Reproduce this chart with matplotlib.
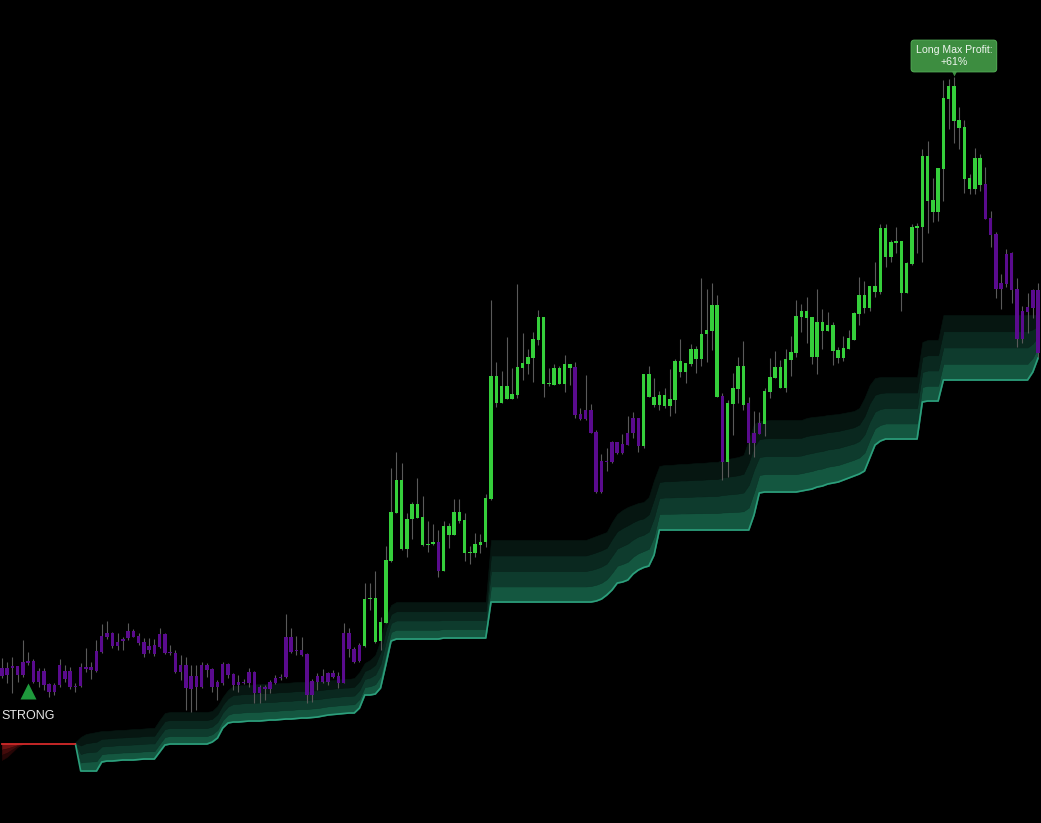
"""
Trailing-stop trend chart: candles coloured by regime, layered stop band,
entry signal and max-profit tooltip. Writes out.png.
"""
import numpy as np
import matplotlib
matplotlib.use("Agg")
import matplotlib.pyplot as plt

plt.rcParams["font.family"] = ["Liberation Sans", "DejaVu Sans"]

# ---- candles (price units) ----
opens = [
    332, 332, 334, 334, 338, 339, 339, 329, 329, 316,
    315, 335, 329, 329, 314, 333, 333, 333, 349, 364,
    367, 367, 358, 361, 369, 369, 364, 358, 354, 355,
    366, 366, 348, 347, 335, 335, 324, 324, 335, 335,
    331, 318, 336, 336, 326, 318, 318, 328, 328, 313,
    313, 318, 322, 323, 363, 363, 350, 350, 346, 319,
    324, 324, 327, 327, 324, 367, 367, 351, 355, 354,
    401, 358, 359, 377, 439, 487, 451, 451, 481, 482,
    455, 455, 456, 458, 429, 465, 465, 479, 447, 447,
    447, 455, 458, 501, 597, 597, 601, 601, 605, 632,
    636, 642, 660, 616, 616, 615, 616, 616, 632, 633,
    586, 590, 590, 568, 539, 539, 558, 558, 556, 567,
    582, 582, 554, 603, 595, 595, 594, 594, 600, 628,
    628, 636, 641, 641, 666, 669, 603, 604, 538, 596,
    611, 595, 597, 567, 577, 576, 608, 622, 612, 612,
    640, 647, 683, 682, 643, 643, 669, 669, 649, 642,
    642, 651, 660, 686, 692, 692, 708, 708, 743, 743,
    757, 707, 707, 736, 772, 773, 799, 788, 788, 831,
    901, 879, 872, 821, 811, 811, 815, 816, 782, 766,
    717, 746, 747, 711, 689, 693, 710, 710,
]
closes = [
    324, 325, 332, 325, 325, 337, 318, 318, 315, 308,
    308, 315, 321, 313, 313, 314, 331, 330, 329, 348,
    363, 354, 354, 359, 362, 363, 357, 346, 350, 346,
    353, 347, 347, 328, 328, 312, 311, 313, 313, 330,
    313, 313, 317, 325, 315, 315, 317, 317, 307, 307,
    311, 311, 317, 322, 323, 348, 349, 345, 305, 305,
    318, 318, 318, 323, 317, 317, 351, 338, 339, 401,
    402, 402, 378, 440, 488, 520, 520, 481, 496, 496,
    483, 456, 458, 429, 474, 474, 488, 488, 480, 448,
    456, 458, 502, 624, 624, 614, 614, 606, 633, 637,
    643, 661, 683, 683, 617, 632, 632, 636, 636, 585,
    581, 581, 567, 508, 508, 538, 538, 547, 547, 555,
    567, 554, 626, 626, 603, 605, 605, 601, 639, 639,
    637, 651, 651, 666, 670, 695, 695, 538, 597, 612,
    634, 634, 557, 557, 566, 609, 623, 633, 633, 641,
    648, 684, 689, 689, 683, 678, 678, 675, 675, 650,
    652, 662, 687, 705, 705, 714, 714, 772, 772, 758,
    759, 759, 737, 773, 774, 844, 844, 800, 832, 902,
    914, 914, 880, 873, 822, 842, 842, 781, 765, 711,
    711, 716, 710, 661, 661, 688, 692, 647,
]
highs = [
    342, 338, 343, 334, 360, 348, 341, 332, 332, 317,
    317, 341, 335, 333, 317, 337, 352, 338, 360, 376,
    379, 368, 367, 363, 377, 371, 367, 362, 362, 361,
    372, 367, 355, 350, 345, 343, 335, 335, 338, 337,
    332, 320, 338, 337, 327, 325, 321, 332, 329, 315,
    315, 320, 325, 326, 386, 372, 364, 363, 347, 321,
    327, 331, 328, 330, 328, 377, 372, 353, 357, 417,
    417, 429, 383, 454, 532, 548, 537, 487, 498, 522,
    504, 479, 476, 470, 479, 477, 501, 501, 487, 454,
    467, 466, 506, 700, 638, 629, 663, 632, 716, 667,
    651, 668, 690, 683, 632, 636, 634, 645, 636, 638,
    592, 625, 596, 570, 546, 552, 559, 558, 566, 584,
    588, 582, 626, 634, 622, 609, 612, 631, 641, 661,
    637, 656, 654, 722, 711, 717, 705, 607, 600, 627,
    643, 659, 603, 589, 588, 612, 642, 649, 640, 651,
    664, 700, 696, 703, 683, 711, 691, 688, 678, 653,
    664, 670, 688, 723, 719, 714, 738, 776, 776, 760,
    773, 759, 738, 776, 777, 851, 859, 822, 832, 920,
    921, 923, 893, 880, 826, 852, 846, 833, 789, 768,
    726, 751, 748, 722, 694, 707, 711, 717,
]
lows = [
    322, 317, 307, 318, 323, 335, 317, 313, 310, 303,
    305, 313, 318, 311, 308, 313, 328, 321, 328, 347,
    361, 352, 350, 350, 360, 363, 355, 343, 347, 344,
    352, 346, 345, 327, 320, 290, 288, 290, 312, 323,
    308, 300, 315, 322, 310, 308, 316, 313, 297, 297,
    300, 307, 316, 320, 322, 347, 345, 344, 297, 298,
    310, 317, 315, 322, 312, 317, 343, 337, 338, 353,
    390, 357, 350, 377, 438, 487, 450, 443, 461, 482,
    454, 448, 455, 423, 429, 452, 465, 477, 439, 436,
    443, 447, 453, 500, 593, 597, 601, 601, 602, 620,
    626, 618, 655, 603, 614, 615, 616, 608, 615, 582,
    580, 580, 567, 507, 507, 529, 537, 546, 546, 555,
    562, 548, 552, 603, 593, 590, 592, 584, 587, 623,
    617, 634, 627, 634, 638, 650, 603, 520, 523, 565,
    597, 590, 546, 543, 566, 564, 602, 622, 612, 608,
    624, 643, 668, 657, 636, 626, 651, 669, 635, 637,
    639, 651, 660, 675, 687, 689, 703, 706, 733, 738,
    747, 689, 707, 735, 747, 738, 767, 778, 779, 799,
    871, 857, 851, 807, 806, 806, 809, 781, 753, 702,
    691, 713, 697, 653, 657, 667, 682, 643,
]

# regime changes: first candle index of each regime and its state
regime_start = [0, 69, 83, 84, 109, 122, 137, 138, 142, 145, 187]
regime_state = ["bear", "bull", "bear", "bull", "bear", "bull",
                "bear", "bull", "bear", "bull", "bear"]

# ---- long trailing stop band (starts after the short stop ends) ----
band_low = [
    256, 229, 229, 229, 229,
    238, 239, 239, 239.5, 240, 240, 240, 240.5, 241, 241, 241,
    248, 255, 256, 256, 256, 256, 256, 256, 256, 256,
    258, 262, 272, 277, 278, 278, 278.5, 279, 279, 279, 279.5,
    280, 280, 280.5, 281, 281, 281.5, 282, 282, 282.5, 283,
    284, 285, 285.5, 286, 286.5, 287, 287,
    292, 305, 305, 306, 312, 335, 359,
    361, 361, 361, 361, 361, 361, 361, 361, 361,
    362, 362, 362, 362, 362, 362, 362, 362, 362,
    398, 398, 398, 398, 398, 398, 398, 398, 398, 398,
    398, 398, 398, 398, 398, 398, 398, 398, 398, 398,
    399, 401, 405, 410, 417, 418, 420, 426, 430, 432.5, 434, 445, 470,
    470, 470, 470, 470, 470, 470, 470, 470, 470, 470,
    470, 470, 470, 470, 470, 470, 470,
    485, 507,
    508, 508, 508, 508, 508, 508, 508,
    509, 510, 511, 513, 514, 516, 517, 518, 520, 522, 524, 526, 529, 542, 555,
    559,
    561, 561, 561, 561, 561, 561, 561,
    598, 599, 599, 599,
    620, 620, 620, 620, 620, 620, 620, 620, 620, 620,
    620, 620, 620, 620, 620, 620, 620,
    628, 642,
]
band_high = [
    258, 263, 266, 267, 268, 269, 269, 269.5, 270, 270, 270.5, 271, 271,
    271.5, 272, 272,
    280, 287, 288, 288, 288, 288, 288, 288, 288, 288,
    289, 294, 303, 310, 314, 314.5, 315, 315, 315.5, 316, 316,
    316, 316.5, 317, 317, 317.5, 318, 318, 318, 318.5, 318.5,
    319, 319.5, 320, 320.5, 321, 321, 322,
    328, 337, 340, 345, 360, 382, 395,
    398, 398, 398, 398, 398, 398, 398, 398, 398,
    398, 398, 398, 398, 398, 398, 398, 398, 398,
    460, 460, 460, 460, 460, 460, 460, 460, 460, 460,
    460, 460, 460, 460, 460, 460, 460, 460, 460,
    462, 464, 466, 468, 478, 486, 490, 493, 495, 497, 498, 503, 520, 534,
    535, 535, 535.5, 536, 536, 536.5, 537, 537, 537.5, 538, 538,
    540, 541, 542, 543, 545, 560, 576,
    579, 579.5, 580, 580, 580, 580, 580, 580, 580,
    582, 583, 583.5, 584, 585, 585.5, 586, 587, 588, 589, 592, 602, 615, 622,
    623, 623, 623, 623, 623, 623, 623, 623,
    658, 660, 660, 660,
    685, 685, 685, 685, 685, 685, 685, 685, 685, 685,
    685, 685, 685, 685, 685, 685, 685, 685, 685,
]

# ---- short stop remnant at the left edge ----
red_stop = [256, 256, 256, 256, 256, 256, 256, 256, 256, 256,
            256, 256, 256, 256, 256]
red_fade_low = [240, 243, 248, 253, 256]

# ---- signal / labels ----
signal_idx, signal_price = 5, 309.5
peak_idx = 181
peak_label = "Long Max Profit:\n+61%"

BULL = "#35cf3b"
BEAR = "#5a0b8e"

n = len(opens)
x = np.arange(n)
o = np.array(opens, float)
c = np.array(closes, float)
h = np.array(highs, float)
l = np.array(lows, float)

colors = []
bounds = regime_start + [n]
for k, state in enumerate(regime_state):
    colors += [BULL if state == "bull" else BEAR] * (bounds[k + 1] - bounds[k])

fig = plt.figure(figsize=(10.41, 8.23), dpi=100, facecolor="black")
ax = fig.add_axes([0, 0, 1, 1])
ax.set_facecolor("black")
ax.set_xlim(-0.34, 197.56)
ax.set_ylim(177, 1000)
ax.set_axis_off()

# stop band: 4 equal layers, brightest at the bottom
bx = x[n - len(band_low):]
blo = np.array(band_low, float)
bhi = np.array(band_high, float)
step = (bhi - blo) / 4
layer_colors = ["#145740", "#0e3b2d", "#0a281f", "#061611"]
for k, col in enumerate(layer_colors):
    ax.fill_between(bx, blo + k * step, blo + (k + 1) * step,
                    color=col, lw=0.4, zorder=1)
ax.plot(bx, blo, color="#2c9f7c", lw=1.2, zorder=2)

# short stop line and its fading shade
rx = x[:len(red_stop)]
fx = x[:len(red_fade_low)]
rtop = np.array(red_stop[:len(red_fade_low)], float)
rlow = np.array(red_fade_low, float)
rstep = (rtop - rlow) / 3
for k, col in enumerate(["#6e1212", "#430b0b", "#260606"]):
    ax.fill_between(fx, rtop - k * rstep, rtop - (k + 1) * rstep,
                    color=col, lw=0.3, zorder=1)
ax.plot(rx, red_stop, color="#d42a2a", lw=1.3, zorder=2)

# candles
ax.vlines(x, l, h, color="#5a5a5a", lw=0.8, zorder=3)
body_lo = np.minimum(o, c)
body_h = np.maximum(np.abs(c - o), 1.0)
ax.bar(x, body_h, bottom=body_lo, width=0.66, color=colors, lw=0, zorder=4)

# entry signal
ax.plot(signal_idx, signal_price, marker="^", ms=11.5, color="#1e9a3c",
        mec="none", zorder=5)
ax.text(signal_idx, signal_price - 25.5, "STRONG", ha="center", va="center",
        color="#e8e8e8", fontsize=9, zorder=5)

# max profit tooltip
ax.plot(peak_idx, h[peak_idx] + 6, marker="v", ms=7, color="#3d8d40",
        mec="none", zorder=5)
ax.text(peak_idx, h[peak_idx] + 21, peak_label, ha="center", va="center",
        color="#eef5ee", fontsize=7.6, linespacing=1.35, zorder=6,
        bbox=dict(boxstyle="round,pad=0.42,rounding_size=0.3",
                  fc="#3d8d40", ec="#4fa852", lw=0.8))

fig.savefig("out.png", dpi=100, facecolor="black")
